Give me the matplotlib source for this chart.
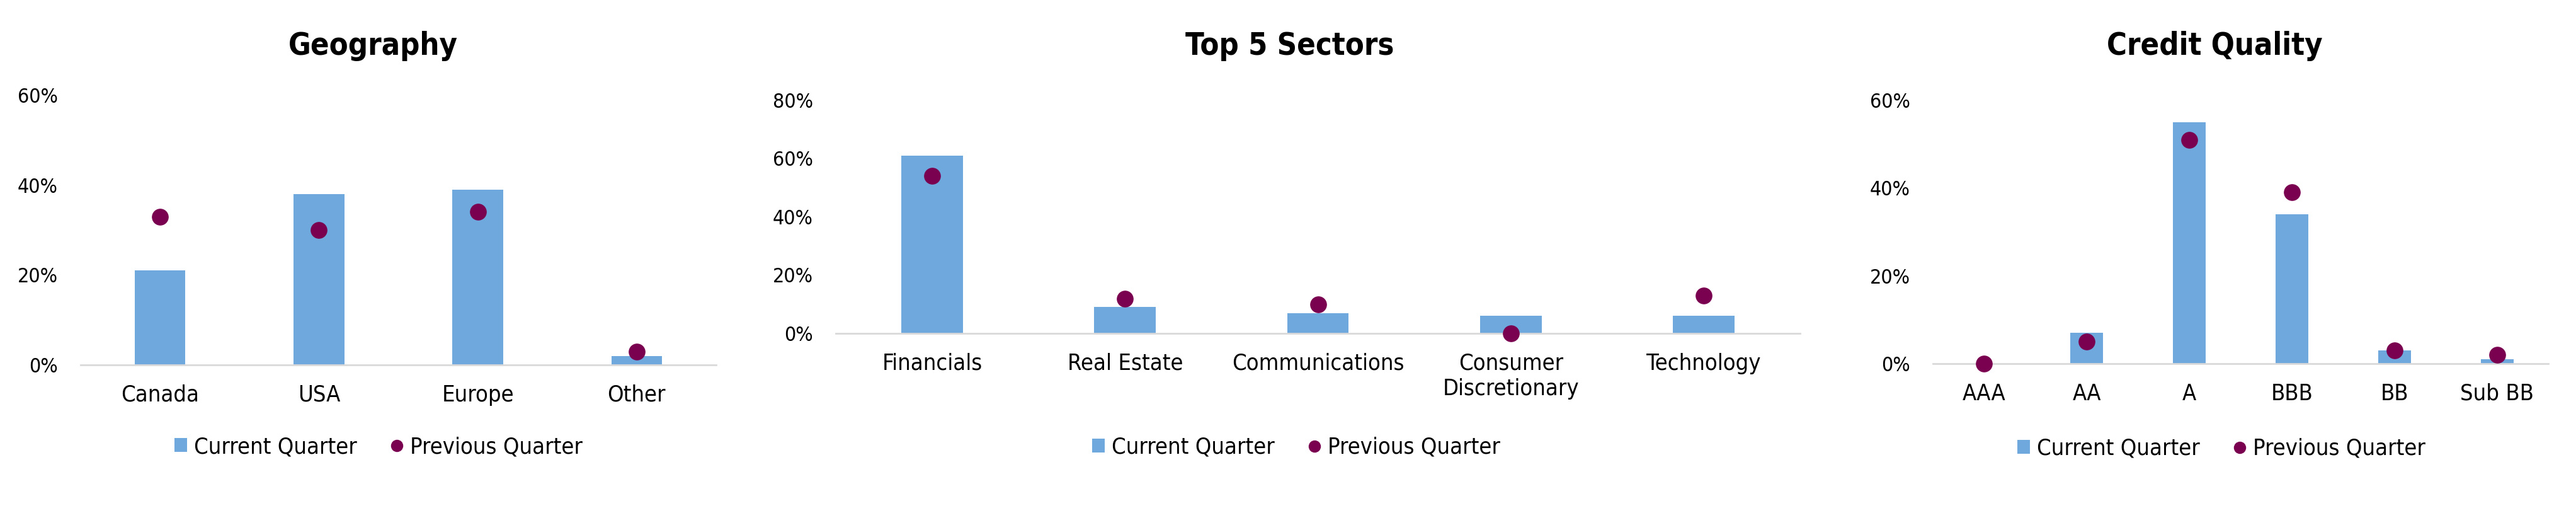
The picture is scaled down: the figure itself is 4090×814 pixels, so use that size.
import matplotlib
matplotlib.use('Agg')
import matplotlib.pyplot as plt
from matplotlib.patches import Patch
from matplotlib.lines import Line2D

# condensed look of the original font
plt.rcParams['font.family'] = ['DejaVu Sans']
plt.rcParams['font.stretch'] = 'condensed'

# data (percent)
geo_labels = ['Canada', 'USA', 'Europe', 'Other']
geo_current = [21, 38, 39, 2]
geo_previous = [33, 30, 34, 3]

sector_labels = ['Financials', 'Real Estate', 'Communications', 'Consumer\nDiscretionary', 'Technology']
sector_current = [61, 9, 7, 6, 6]
sector_previous = [54, 12, 10, 0, 13]

credit_labels = ['AAA', 'AA', 'A', 'BBB', 'BB', 'Sub BB']
credit_current = [0, 7, 55, 34, 3, 1]
credit_previous = [0, 5, 51, 39, 3, 2]

#colors
bar_color = '#6FA8DC'
dot_color = '#7A0050'
line_color = '#D9D9D9'

W, H = 4090, 814
fig = plt.figure(figsize=(W / 100, H / 100), dpi=100)


def draw_chart(left, right, y_zero, y_top, ymax, labels, current, previous,
               title, title_x, legend_x, legend_y):
    ax = fig.add_axes([left / W, 1 - y_zero / H, (right - left) / W, (y_zero - y_top) / H])
    x = range(len(labels))
    ax.bar(x, current, 0.32, color=bar_color, zorder=2)
    ax.scatter(x, previous, s=330, color=dot_color, zorder=3, clip_on=False)
    ax.set_xlim(-0.5, len(labels) - 0.5)
    ax.set_ylim(0, ymax)
    ax.set_yticks(range(0, ymax + 1, 20))
    ax.set_yticklabels([str(v) + '%' for v in range(0, ymax + 1, 20)])
    ax.set_xticks(list(x))
    ax.set_xticklabels(labels, va='top', linespacing=1.25)
    for s in ['top', 'right', 'left']:
        ax.spines[s].set_visible(False)
    ax.spines['bottom'].set_color(line_color)
    ax.spines['bottom'].set_linewidth(2)
    ax.tick_params(axis='y', length=0, pad=26, labelsize=23)
    ax.tick_params(axis='x', length=0, pad=22, labelsize=26)
    fig.text(title_x / W, 1 - 73 / H, title, ha='center', va='center',
             fontsize=35, fontweight='bold')
    handles = [Patch(facecolor=bar_color, edgecolor='none'),
               Line2D([], [], linestyle='none', marker='o', markersize=13,
                      color=dot_color)]
    fig.legend(handles, ['Current Quarter', 'Previous Quarter'], loc='center',
               bbox_to_anchor=(legend_x / W, 1 - legend_y / H), ncol=2,
               frameon=False, fontsize=26, handlelength=0.55, handleheight=0.55,
               handletextpad=0.3, columnspacing=1.5)
    return ax


draw_chart(128, 1137, 579, 151, 60, geo_labels, geo_current, geo_previous,
           'Geography', 592, 601, 709)
draw_chart(1327, 2858, 529, 159, 80, sector_labels, sector_current, sector_previous,
           'Top 5 Sectors', 2048, 2058, 710)
draw_chart(3069, 4046, 577, 159, 60, credit_labels, credit_current, credit_previous,
           'Credit Quality', 3516, 3527, 712)

fig.savefig('out.png', dpi=100, facecolor='white')
